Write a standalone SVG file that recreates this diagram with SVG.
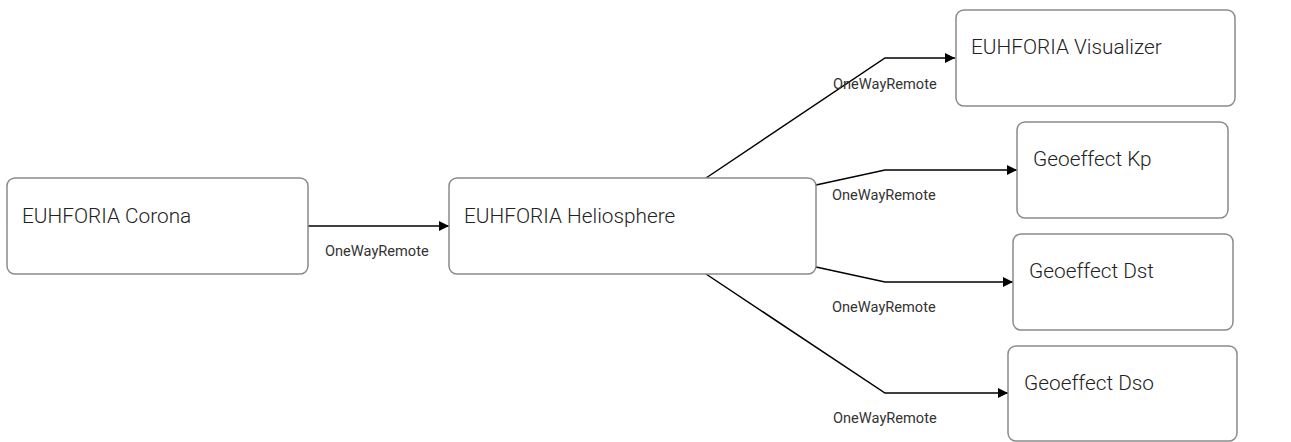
<svg xmlns="http://www.w3.org/2000/svg" width="1291" height="442" viewBox="0 0 1291 442">
<style>
.box{fill:#fff;stroke:#8a8a8a;stroke-width:1.5}
.title{font-family:Roboto,"Liberation Sans",sans-serif;font-weight:300;font-size:20.8px;fill:#222}
.lbl{font-family:Roboto,"Liberation Sans",sans-serif;font-size:14.6px;fill:#333}
.edge{fill:none;stroke:#000;stroke-width:1.5}
</style>
<defs>
<marker id="arr" viewBox="0 0 10 10" refX="10" refY="5" markerWidth="10" markerHeight="10" markerUnits="userSpaceOnUse" orient="auto">
<path d="M0,0 L10,5 L0,10 z" fill="#000"/>
</marker>
</defs>
<rect width="1291" height="442" fill="#fff"/>
<g id="connectors">
<path class="edge" d="M308,226 L449,226" marker-end="url(#arr)"/>
<path class="edge" d="M706,178 L885,58 L955,58" marker-end="url(#arr)"/>
<path class="edge" d="M816,185 L885,170 L1017,170" marker-end="url(#arr)"/>
<path class="edge" d="M816,267 L885,282 L1013,282" marker-end="url(#arr)"/>
<path class="edge" d="M706,274 L885,393 L1008,393" marker-end="url(#arr)"/>
<text class="lbl" x="325" y="256">OneWayRemote</text>
<text class="lbl" x="833" y="89">OneWayRemote</text>
<text class="lbl" x="832" y="200">OneWayRemote</text>
<text class="lbl" x="832" y="312">OneWayRemote</text>
<text class="lbl" x="833" y="423">OneWayRemote</text>
</g>
<g id="corona">
<rect class="box" x="7" y="178" width="301" height="96" rx="8"/>
<text class="title" x="22" y="223">EUHFORIA Corona</text>
</g>
<g id="heliosphere">
<rect class="box" x="449" y="178" width="367" height="96" rx="8"/>
<text class="title" x="464" y="223">EUHFORIA Heliosphere</text>
</g>
<g id="visualizer">
<rect class="box" x="956" y="10" width="279" height="96" rx="8"/>
<text class="title" x="971" y="54">EUHFORIA Visualizer</text>
</g>
<g id="kp">
<rect class="box" x="1017" y="122" width="211" height="96" rx="8"/>
<text class="title" x="1033" y="166">Geoeffect Kp</text>
</g>
<g id="dst">
<rect class="box" x="1013" y="234" width="220" height="96" rx="8"/>
<text class="title" x="1029" y="278">Geoeffect Dst</text>
</g>
<g id="dso">
<rect class="box" x="1008" y="346" width="229" height="95" rx="8"/>
<text class="title" x="1024" y="390">Geoeffect Dso</text>
</g>
</svg>
